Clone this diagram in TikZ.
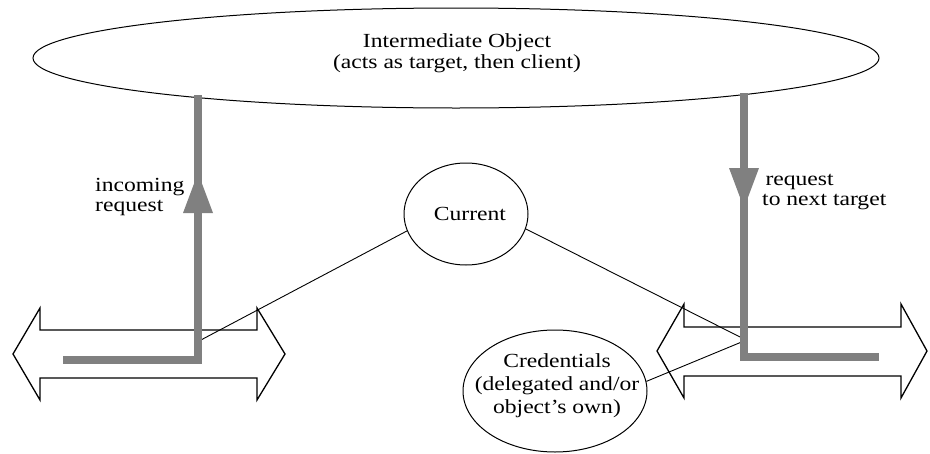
\documentclass[tikz,border=0pt]{standalone}
\usepackage{fontspec}
\setmainfont{Liberation Serif}[FakeStretch=1.18]
\usetikzlibrary{shapes.geometric}
\definecolor{flowgray}{RGB}{128,128,128}
\begin{document}
\begin{tikzpicture}[x=1pt,y=-1pt,
  every node/.style={inner sep=0pt},
  oval/.style={draw, ellipse, line width=1pt},
  lbl/.style={font=\fontsize{20}{20.5}\selectfont, align=center},
  dblarrow/.style={draw, line width=1.3pt, line join=miter},
  flow/.style={draw=flowgray, line width=8pt, line join=miter},
  flowhead/.style={fill=flowgray},
  link/.style={draw, line width=0.9pt}]
\useasboundingbox (0,0) rectangle (930,453);

% double arrows
\draw[dblarrow] (13,354) -- (40,308) -- (40,330) -- (257,330) -- (257,308) -- (285,354)
  -- (257,400) -- (257,378) -- (40,378) -- (40,400) -- cycle;
\draw[dblarrow] (657,351) -- (684,304) -- (684,327) -- (901,327) -- (901,304) -- (927,351)
  -- (901,398) -- (901,376) -- (684,376) -- (684,398) -- cycle;

% ellipses
\node[oval, minimum width=846pt, minimum height=100pt] (obj) at (456,58) {};
\node[lbl] (objtxt) at (457,53) {Intermediate Object\\(acts as target, then client)};
\node[oval, minimum width=124pt, minimum height=102pt] (cur) at (466,214) {};
\node[lbl] (curtxt) at (470,214) {Current};
\node[oval, minimum width=184pt, minimum height=122pt] (cred) at (555,391) {};
\node[lbl, font=\fontsize{20}{23}\selectfont] (credtxt) at (557,386) {Credentials\\(delegated and/or\\object’s own)};

% labels
\node[lbl, align=left, anchor=west] (inlbl) at (95,197) {incoming\\request};
\node[lbl, align=left, anchor=west] (outlbl) at (762,192) {\,request\\to next target};

% junction points
\coordinate (lj) at (199,341);
\coordinate (rj) at (744,339);
\coordinate (rj2) at (744,341);

% thin links
\draw[link] (cur.196) -- (lj);
\draw[link] (cur.-14) -- (rj);
\draw[link] (cred.6) -- (rj2);

% gray flows
\coordinate (inS) at (63,360);
\coordinate (inC) at (198,360);
\coordinate (inT) at (198,95);
\draw[flow] (inS) -- (inC) -- (inT);
\fill[flowhead] (198,173) -- (213,213) -- (183,213) -- cycle;

\coordinate (outT) at (744,93);
\coordinate (outC) at (744,357);
\coordinate (outE) at (879,357);
\draw[flow] (outT) -- (outC) -- (outE);
\fill[flowhead] (744,208) -- (759,168) -- (729,168) -- cycle;
\end{tikzpicture}
\end{document}
